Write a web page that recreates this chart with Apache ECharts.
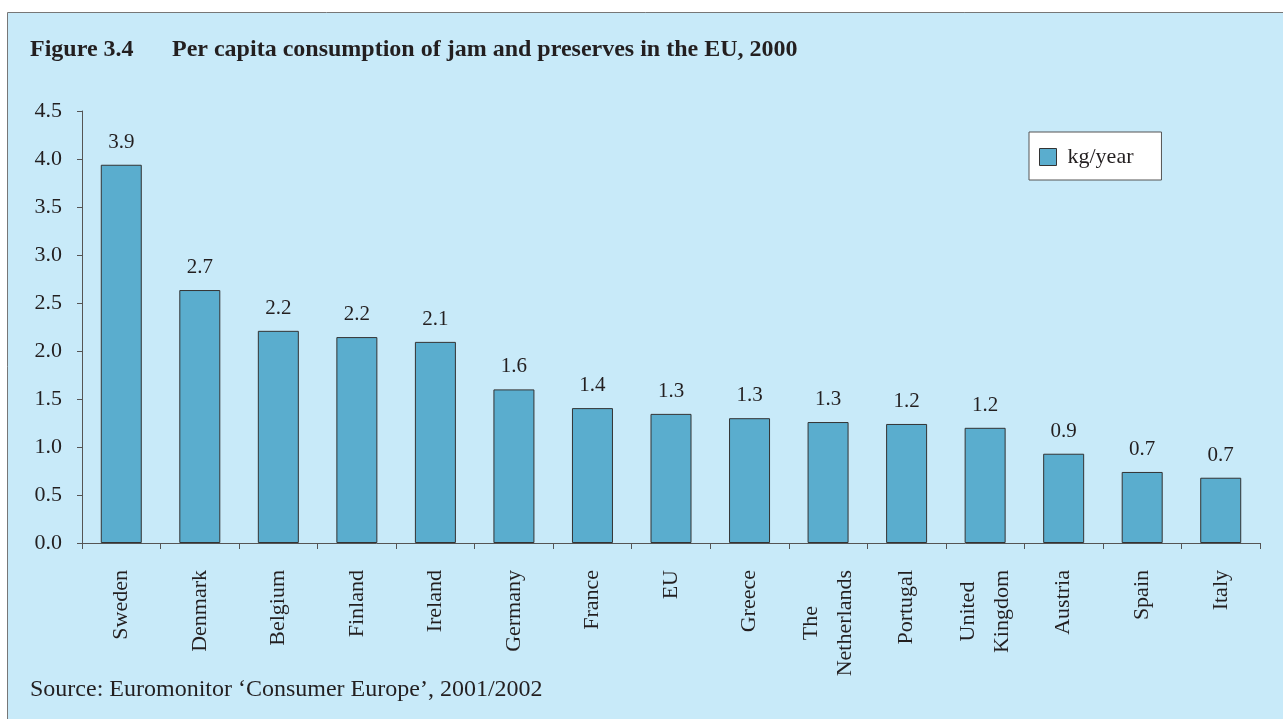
<!DOCTYPE html>
<html>
<head>
<meta charset="utf-8">
<script src="https://cdn.jsdelivr.net/npm/echarts@6/dist/echarts.min.js"></script>
<style>
html,body{margin:0;padding:0;background:#fff;}
#chart{width:1283px;height:719px;}
</style>
</head>
<body>
<div id="chart"></div>
<script>
var categories = ['Sweden','Denmark','Belgium','Finland','Ireland','Germany','France','EU','Greece','The\nNetherlands','Portugal','United\nKingdom','Austria','Spain','Italy'];
var values = [3.94, 2.635, 2.21, 2.145, 2.095, 1.60, 1.405, 1.345, 1.30, 1.26, 1.24, 1.20, 0.93, 0.74, 0.68];
var valueLabels = ['3.9','2.7','2.2','2.2','2.1','1.6','1.4','1.3','1.3','1.3','1.2','1.2','0.9','0.7','0.7'];
var yTicks = [0, 0.5, 1.0, 1.5, 2.0, 2.5, 3.0, 3.5, 4.0, 4.5];
var seriesName = 'kg/year';

var serif = '"Liberation Serif", "Times New Roman", serif';
var chart = echarts.init(document.getElementById('chart'), null, {renderer:'canvas'});
chart.setOption({
  backgroundColor: '#ffffff',
  animation: false,
  textStyle: {fontFamily: serif},
  graphic: [
    {type:'rect', z:-10, shape:{x:7.5, y:12.5, width:1290, height:720}, style:{fill:'#c8eaf9', stroke:'#777', lineWidth:1}},
    {type:'text', left:30, top:38, style:{text:'Figure 3.4', font:'bold 24px ' + serif, fill:'#231f20'}},
    {type:'text', left:172, top:38, style:{text:'Per capita consumption of jam and preserves in the EU, 2000', font:'bold 24px ' + serif, fill:'#231f20'}},
    {type:'text', left:30, top:678, style:{text:'Source: Euromonitor \u2018Consumer Europe\u2019, 2001/2002', font:'24px ' + serif, fill:'#231f20'}}
  ],
  legend: {
    left: 1029, top: 132,
    orient: 'vertical',
    backgroundColor: '#ffffff',
    borderColor: '#555',
    borderWidth: 1,
    borderRadius: 0,
    padding: [14, 28, 12, 10],
    itemWidth: 17, itemHeight: 17,
    itemStyle: {borderColor:'#333', borderWidth:1},
    textStyle: {fontFamily: serif, fontSize: 22, color:'#231f20', padding:[0,0,0,6]},
    data: [{name: seriesName, icon: 'rect'}]
  },
  grid: {left: 82, right: 23, top: 111, bottom: 176, containLabel: false},
  xAxis: {
    type: 'category',
    data: categories,
    axisLine: {lineStyle:{color:'#555', width:1}},
    axisTick: {show:true, alignWithLabel:false, length:6, lineStyle:{color:'#555'}},
    axisLabel: {
      rotate: 90, margin: 27, interval: 0,
      fontFamily: serif, fontSize: 22, color:'#231f20',
      formatter: function (v) {
        return v.split('\n').map(function (s) { return '{c|' + s + '}'; }).join('\n');
      },
      rich: {c: {align:'center', fontFamily: serif, fontSize: 22, color:'#231f20', lineHeight: 34}}
    }
  },
  yAxis: {
    type: 'value',
    min: yTicks[0], max: yTicks[yTicks.length-1], interval: 0.5,
    axisLine: {show:true, lineStyle:{color:'#555', width:1}},
    axisTick: {show:true, length:5, lineStyle:{color:'#555'}},
    splitLine: {show:false},
    axisLabel: {
      margin: 20, fontFamily: serif, fontSize: 22, color:'#231f20',
      formatter: function (v) { return v.toFixed(1); }
    }
  },
  series: [{
    name: seriesName,
    type: 'bar',
    data: values,
    barWidth: 41,
    itemStyle: {color:'#5aadce', borderColor:'#333', borderWidth:1},
    label: {
      show: true, position: 'top', distance: 12,
      fontFamily: serif, fontSize: 21, color:'#231f20',
      formatter: function (p) { return valueLabels[p.dataIndex]; }
    }
  }]
});
</script>
</body>
</html>
